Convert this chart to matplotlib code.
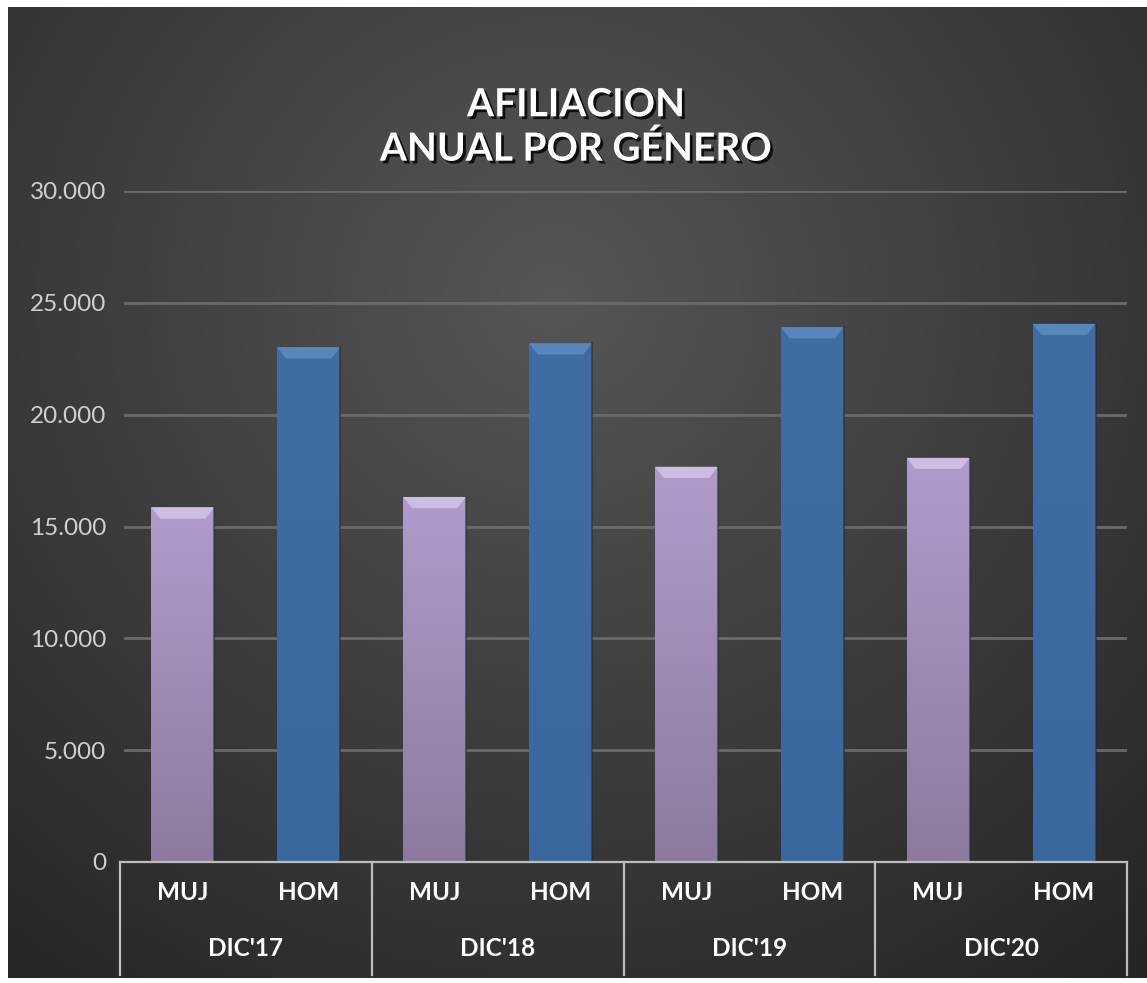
import matplotlib
matplotlib.use("Agg")
import matplotlib.pyplot as plt
import matplotlib.patheffects as pe
import numpy as np

years = ["DIC'17", "DIC'18", "DIC'19", "DIC'20"]
genders = ["MUJ", "HOM"]
muj = [15850, 16320, 17670, 18070]
hom = [23010, 23190, 23910, 24060]
yticks = [0, 5000, 10000, 15000, 20000, 25000, 30000]
ytick_labels = ["0", "5.000", "10.000", "15.000", "20.000", "25.000", "30.000"]
title = "AFILIACION\nANUAL POR GÉNERO"

plt.rcParams["font.family"] = ["Lato", "DejaVu Sans"]

W, H = 1147, 983
fig = plt.figure(figsize=(W / 100, H / 100), dpi=100)
fig.patch.set_facecolor("white")

# background with radial gradient
bg = fig.add_axes([8 / W, 5 / H, 1 - 8 / W, 1 - 12 / H])
bg.set_axis_off()
yy, xx = np.mgrid[0:1:400j, 0:1:400j]
r = np.sqrt(((xx - 0.48) / 0.8) ** 2 + ((yy - 0.3) / 0.9) ** 2)
r = np.clip(r, 0, 1)
light = np.array([0x56, 0x56, 0x56]) / 255
dark = np.array([0x25, 0x25, 0x25]) / 255
img = light[None, None, :] * (1 - r[..., None]) + dark[None, None, :] * r[..., None]
bg.imshow(img, aspect="auto", extent=(0, 1, 1, 0))
bg.set_xlim(0, 1)
bg.set_ylim(1, 0)

ax = fig.add_axes([120 / W, 1 - 862 / H, (1127 - 120) / W, (862 - 191) / H])
ax.patch.set_alpha(0)
for s in ax.spines.values():
    s.set_visible(False)
ax.set_yticks(yticks)
ax.set_yticklabels(ytick_labels, color="#d0d0d0", fontsize=17.5)
ax.tick_params(axis="y", length=0, pad=10)
ax.set_xticks([])
for v in yticks[1:]:
    ax.axhline(v, color="#6a6a6a", lw=2, xmin=0.005, zorder=0)

x_muj = np.arange(len(years)) * 2 + 0.5
x_hom = x_muj + 1
bw = 0.5


def shaded_bars(xs, vals, top, bottom, bevel):
    bars = ax.bar(xs, vals, width=bw, color=top, edgecolor="none", zorder=2)
    for b in bars:
        x0, w, h = b.get_x(), b.get_width(), b.get_height()
        grad = np.linspace(0, 1, 256)[:, None]
        cols = np.array(top)[None, :] * (1 - grad) + np.array(bottom)[None, :] * grad
        cols = np.repeat(cols[:, None, :], 2, axis=1)
        im = ax.imshow(cols, extent=(x0, x0 + w, 0, h), aspect="auto", origin="upper", zorder=2)
        im.set_clip_path(b)
        bh = 500
        ax.fill([x0, x0 + w, x0 + w * 0.86, x0 + w * 0.14],
                [h, h, h - bh, h - bh], color=bevel, zorder=3, lw=0)
        ax.plot([x0 + w, x0 + w], [0, h], color="#1e2a3a", lw=1.5, alpha=0.5, zorder=3)
    return bars


shaded_bars(x_muj, muj, (0.69, 0.61, 0.80), (0.55, 0.48, 0.62), "#cdbde3")
shaded_bars(x_hom, hom, (0.25, 0.43, 0.64), (0.23, 0.41, 0.62), "#5886bd")

ax.set_xlim(0, 8)
ax.set_ylim(0, 30000)

# category axis
line_c = "#bdbdbd"
ax.plot([0, 8], [0, 0], color=line_c, lw=1.6, clip_on=False, zorder=4)
ybot = -(975 - 862) / (862 - 191) * 30000
for i in range(len(years) + 1):
    ax.plot([2 * i, 2 * i], [0, ybot], color=line_c, lw=1.6, clip_on=False, zorder=4)
for i, yr in enumerate(years):
    ax.text(x_muj[i], -(893 - 862) / 671 * 30000, genders[0], ha="center", va="center",
            color="white", fontsize=17.5, fontweight="bold")
    ax.text(x_hom[i], -(893 - 862) / 671 * 30000, genders[1], ha="center", va="center",
            color="white", fontsize=17.5, fontweight="bold")
    ax.text(2 * i + 1, -(948 - 862) / 671 * 30000, yr, ha="center", va="center",
            color="white", fontsize=17.5, fontweight="bold")

fig.text(576 / W, 1 - 127 / H, title, ha="center", va="center", color="white",
         fontsize=28, fontweight="bold", linespacing=1.3,
         path_effects=[pe.withSimplePatchShadow(offset=(2, -2), shadow_rgbFace="black", alpha=0.8)])

fig.savefig("out.png", dpi=100)
